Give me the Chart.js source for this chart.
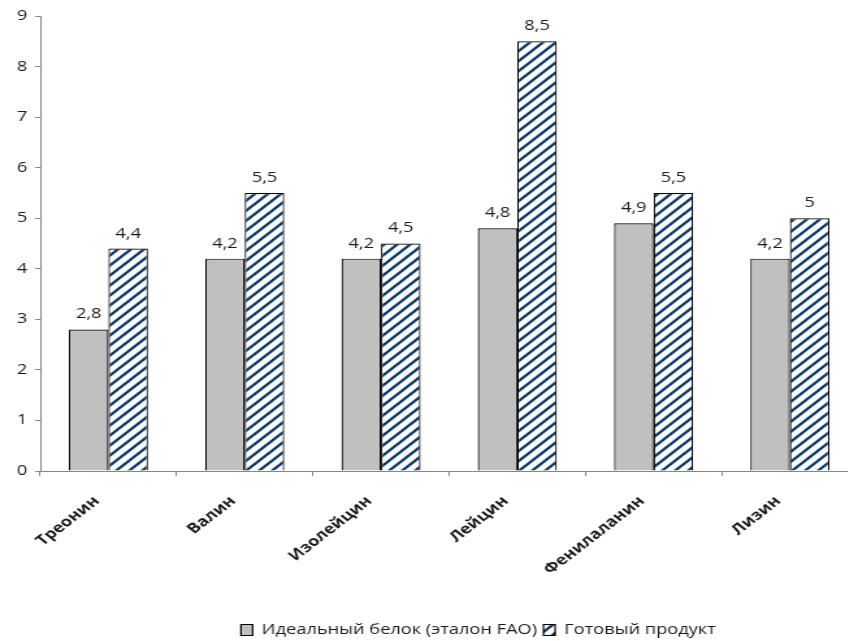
<!DOCTYPE html>
<html lang="ru">
<head>
<meta charset="utf-8">
<script src="https://cdn.jsdelivr.net/npm/chart.js@4.4.1/dist/chart.umd.min.js"></script>
<style>
  html, body { margin: 0; padding: 0; background: #fff; overflow: hidden; }
  /* холст рисуется узким и растягивается по горизонтали */
  #wrap { width: 660px; height: 641px; transform: scaleX(1.3); transform-origin: 0 0; }
  #c { display: block; }
</style>
</head>
<body>
<div id="wrap"><canvas id="c" width="660" height="641"></canvas></div>
<script>
// Аминокислотный состав: идеальный белок ФАО и готовый продукт
const categories = ['Треонин', 'Валин', 'Изолейцин', 'Лейцин', 'Фенилаланин', 'Лизин'];
const idealProtein = [2.8, 4.2, 4.2, 4.8, 4.9, 4.2];
const finishedProduct = [4.4, 5.5, 4.5, 8.5, 5.5, 5.0];
const seriesNames = ['Идеальный белок (эталон FAO)', 'Готовый продукт'];
const yTicks = [0, 1, 2, 3, 4, 5, 6, 7, 8, 9];

const FONT = '"Open Sans", "DejaVu Sans", sans-serif';

// Диагональная штриховка для второго ряда
function makeHatch() {
  const s = 10;
  const t = document.createElement('canvas');
  t.width = s; t.height = s;
  const g = t.getContext('2d');
  g.fillStyle = '#ffffff';
  g.fillRect(0, 0, s, s);
  g.strokeStyle = '#123d6a';
  g.lineWidth = 2.4;
  g.lineCap = 'square';
  g.beginPath();
  g.moveTo(-3, 3); g.lineTo(3, -3);
  g.moveTo(0, s); g.lineTo(s, 0);
  g.moveTo(s - 3, s + 3); g.lineTo(s + 3, s - 3);
  g.stroke();
  return g.createPattern(t, 'repeat');
}

const ctx = document.getElementById('c').getContext('2d');
const hatch = makeHatch();

// Подписи значений над столбиками
const valueLabels = {
  id: 'valueLabels',
  afterDatasetsDraw(chart) {
    const c = chart.ctx;
    c.save();
    c.font = '14px ' + FONT;
    c.fillStyle = '#1a1a1a';
    c.textAlign = 'center';
    c.textBaseline = 'bottom';
    chart.data.datasets.forEach((ds, i) => {
      chart.getDatasetMeta(i).data.forEach((bar, j) => {
        const txt = String(ds.data[j]).replace('.', ',');
        c.fillText(txt, bar.x, bar.y - 8);
      });
    });
    c.restore();
  }
};

// Легенда смещена вправо от центра и прижата к низу
const legendShift = {
  id: 'legendShift',
  afterLayout(chart) {
    const lg = chart.legend;
    if (lg) {
      lg.left += 38; lg.right += 38;
      lg.top += 6; lg.bottom += 6;
    }
  }
};

new Chart(ctx, {
  type: 'bar',
  data: {
    labels: categories,
    datasets: [
      {
        label: seriesNames[0],
        data: idealProtein,
        backgroundColor: '#c0c0c0',
        borderColor: '#000000',
        borderWidth: 1.2
      },
      {
        label: seriesNames[1],
        data: finishedProduct,
        backgroundColor: hatch,
        borderColor: '#000000',
        borderWidth: 1.2
      }
    ]
  },
  options: {
    responsive: false,
    animation: false,
    devicePixelRatio: 1,
    layout: { padding: { top: 16, right: 0, left: 0, bottom: 0 } },
    datasets: {
      bar: { categoryPercentage: 0.58, barPercentage: 1.0 }
    },
    scales: {
      x: {
        grid: {
          display: true,
          drawOnChartArea: false,
          color: '#868686',
          tickLength: 5,
          offset: true
        },
        border: { display: true, color: '#868686', width: 1 },
        ticks: {
          color: '#1a1a1a',
          font: { family: FONT, size: 14, weight: 'bold' },
          minRotation: 45,
          maxRotation: 45,
          padding: 17,
          labelOffset: -9,
          autoSkip: false
        },
        afterFit(scale) { scale.height = 141; }
      },
      y: {
        min: 0,
        max: 9,
        afterBuildTicks(scale) { scale.ticks = yTicks.map(v => ({ value: v })); },
        grid: {
          display: true,
          drawOnChartArea: false,
          color: '#868686',
          tickLength: 4
        },
        border: { display: true, color: '#868686', width: 1 },
        ticks: {
          color: '#1a1a1a',
          font: { family: FONT, size: 14 },
          padding: 6
        },
        afterFit(scale) { scale.width = 31; }
      }
    },
    plugins: {
      legend: {
        position: 'bottom',
        labels: {
          boxWidth: 9,
          boxHeight: 11,
          padding: 5,
          color: '#1a1a1a',
          font: { family: FONT, size: 14 }
        }
      },
      tooltip: { enabled: false }
    }
  },
  plugins: [valueLabels, legendShift]
});
</script>
</body>
</html>
